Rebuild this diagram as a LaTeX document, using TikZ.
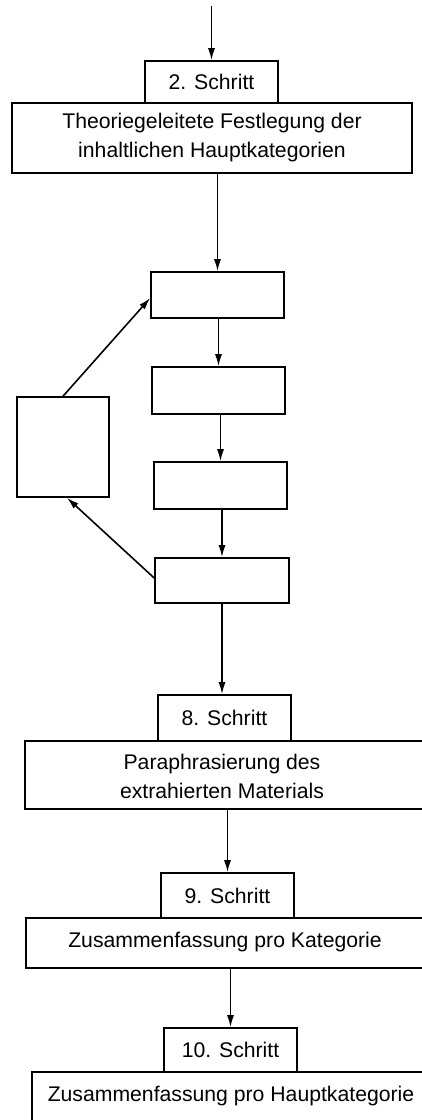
\documentclass[tikz,border=0pt]{standalone}
\usepackage{fontspec}
\setmainfont{Liberation Sans}
\usetikzlibrary{arrows.meta}
\begin{document}
\begin{tikzpicture}[x=1pt,y=-1pt,
  box/.style={draw, line width=1.6pt, rectangle, inner sep=0pt, align=center},
  txt/.style={inner sep=0pt, align=center},
  arr/.style={line width=1.6pt, -{Latex[length=12pt,width=7pt]}},
  font=\fontsize{21.2}{29}\selectfont]
\clip (0,0) rectangle (422,1120);
% step 2
\node[box, minimum width=133pt, minimum height=42pt] (s2) at (211.5,82) {2. Schritt};
\node[box, minimum width=400pt, minimum height=70pt] (b2) at (212,138) {Theoriegeleitete Festlegung der\\inhaltlichen Hauptkategorien};
\coordinate (t) at (211.5,6);
% loop boxes
\node[box, minimum width=133pt, minimum height=46pt] (e1) at (217.5,295) {};
\node[box, minimum width=133pt, minimum height=47pt] (e2) at (218.5,390.5) {};
\node[box, minimum width=133pt, minimum height=47pt] (e3) at (220.5,485.5) {};
\node[box, minimum width=134pt, minimum height=45pt] (e4) at (222,580.5) {};
\node[box, minimum width=92pt, minimum height=100pt] (L) at (63,447) {};
% step 8
\node[box, minimum width=133pt, minimum height=46pt] (s8) at (224.5,718) {8. Schritt};
\node[box, minimum width=415pt, minimum height=68pt] (b8) at (232.5,775) {};
\node[txt] (b8t) at (222,776) {Paraphrasierung des\\extrahierten Materials};
% step 9
\node[box, minimum width=133pt, minimum height=45pt] (s9) at (227.5,895.5) {9. Schritt};
\node[box, minimum width=414pt, minimum height=50pt] (b9) at (233,943) {};
\node[txt] (b9t) at (225,942) {Zusammenfassung pro Kategorie};
% step 10
\node[box, minimum width=133pt, minimum height=44pt] (s10) at (230.5,1050) {10. Schritt};
\node[box, minimum width=408pt, minimum height=63pt] (b10) at (236,1103.5) {};
\node[txt] (b10t) at (231,1096) {Zusammenfassung pro Hauptkategorie};
% connectors
\draw[arr] (t) -- (s2.north);
\draw[arr] (e1.north |- b2.south) -- (e1.north);
\draw[arr] (e1.south -| e2.north) -- (e2.north);
\draw[arr] (e2.south -| e3.north) -- (e3.north);
\draw[arr] (e3.south -| e4.north) -- (e4.north);
\draw[arr] (e4.south) -- (e4.south |- s8.north);
\draw[arr] (s9.north |- b8.south) -- (s9.north);
\draw[arr] (s10.north |- b9.south) -- (s10.north);
\draw[arr] (L.north) -- ([yshift=-3pt]e1.west);
\draw[arr] ([yshift=2.5pt]e4.west) -- ([xshift=4pt]L.south);
\end{tikzpicture}
\end{document}
